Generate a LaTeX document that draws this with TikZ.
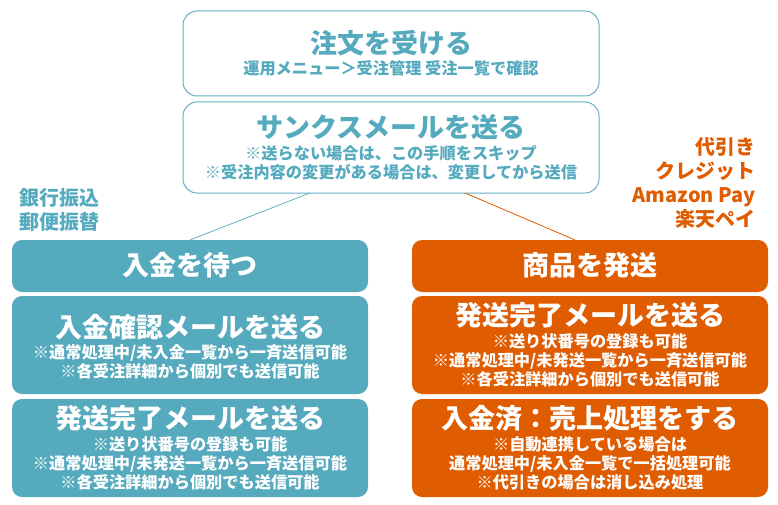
\documentclass[tikz,border=0pt]{standalone}
\usepackage{fontspec}
\setmainfont{Noto Sans CJK JP}
\usetikzlibrary{calc}
\definecolor{tealc}{HTML}{55AABE}
\definecolor{tealline}{HTML}{64AFC3}
\definecolor{orangec}{HTML}{E05C00}
\tikzset{
  outlinebox/.style={draw=tealline, line width=1pt, rounded corners=14pt, inner sep=0pt, outer sep=0pt, minimum width=416pt},
  tealbox/.style={fill=tealc, rounded corners=10pt, inner sep=0pt, outer sep=0pt, minimum width=356pt},
  orangebox/.style={fill=orangec, rounded corners=10pt, inner sep=0pt, outer sep=0pt, minimum width=356pt},
  ttl/.style={inner sep=0pt, font=\bfseries\fontsize{27}{30}\selectfont},
  sub/.style={inner sep=0pt, align=center, font=\bfseries\fontsize{16.2}{18.7}\selectfont},
  side/.style={inner sep=0pt, font=\bfseries\fontsize{20}{24}\selectfont},
}
\begin{document}
\begin{tikzpicture}[x=1pt,y=-1pt]
\useasboundingbox (0,0) rectangle (778,505);
% top boxes
\node[outlinebox, minimum height=85pt] (order) at (391,53.5) {};
\node[outlinebox, minimum height=91pt] (thanks) at (391,147.5) {};
\node[ttl, text=tealc] (t1) at (391,43) {注文を受ける};
\node[sub, text=tealc] (s1) at (391,68) {運用メニュー＞受注管理 受注一覧で確認};
\node[ttl, text=tealc] (t2) at (391,127) {サンクスメールを送る};
\node[sub, text=tealc] (s2) at (391,162.5) {※送らない場合は、この手順をスキップ\\※受注内容の変更がある場合は、変更してから送信};
% left column
\node[tealbox, minimum height=52pt] (wait) at (190,266) {};
\node[tealbox, minimum height=98pt] (confirm) at (190,345) {};
\node[tealbox, minimum height=98pt] (shipL) at (190,448) {};
\node[ttl, text=white] (t3) at (190,265) {入金を待つ};
\node[ttl, text=white] (t4) at (190,327) {入金確認メールを送る};
\node[sub, text=white] (s4) at (190,361.5) {※通常処理中/未入金一覧から一斉送信可能\\※各受注詳細から個別でも送信可能};
\node[ttl, text=white] (t5) at (190,418) {発送完了メールを送る};
\node[sub, text=white] (s5) at (190,463.5) {※送り状番号の登録も可能\\※通常処理中/未発送一覧から一斉送信可能\\※各受注詳細から個別でも送信可能};
% right column
\node[orangebox, minimum height=52pt] (ship) at (590,266) {};
\node[orangebox, minimum height=98pt] (shipR) at (590,345) {};
\node[orangebox, minimum height=98pt] (sales) at (590,448) {};
\node[ttl, text=white] (t6) at (590,265) {商品を発送};
\node[ttl, text=white] (t7) at (590,315) {発送完了メールを送る};
\node[sub, text=white] (s7) at (590,360.5) {※送り状番号の登録も可能\\※通常処理中/未発送一覧から一斉送信可能\\※各受注詳細から個別でも送信可能};
\node[ttl, text=white] (t8) at (590,418) {入金済：売上処理をする};
\node[sub, text=white] (s8) at (590,463.5) {※自動連携している場合は\\通常処理中/未入金一覧で一括処理可能\\※代引きの場合は消し込み処理};
% side labels
\node[side, text=tealc, align=left, anchor=west] (bank) at (19,209.5) {銀行振込\\郵便振替};
\node[side, text=orangec, align=right, anchor=east] (pay) at (756,182.5) {代引き\\クレジット\\Amazon Pay\\楽天ペイ};
% connectors
\draw[tealline, line width=0.8pt] ($(thanks.south west)!0.305!(thanks.south east)$) -- (wait.north);
\draw[orangec, line width=0.8pt] ($(thanks.south west)!0.678!(thanks.south east)$) -- ($(ship.north west)!0.458!(ship.north east)$);
\end{tikzpicture}
\end{document}
